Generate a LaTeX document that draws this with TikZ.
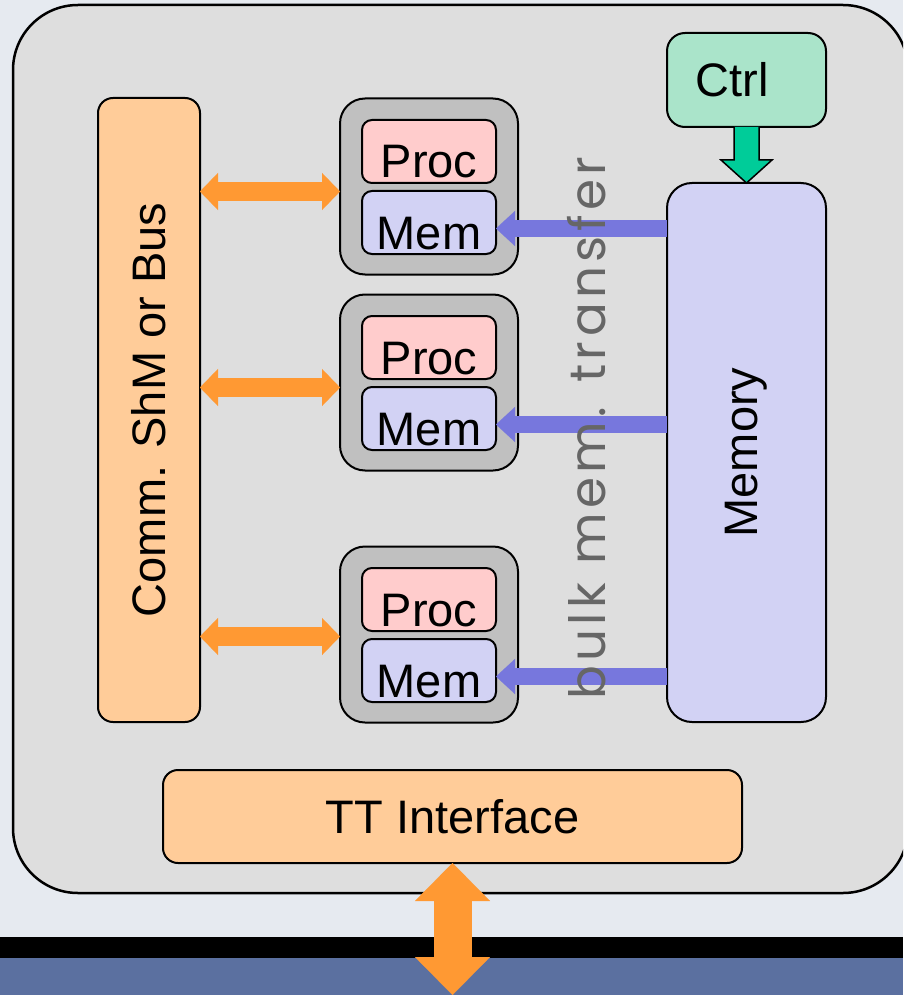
\documentclass[tikz,border=0pt]{standalone}
\usepackage{fontspec}
\setmainfont{Liberation Sans}
\newfontfamily\gothic[LetterSpace=9]{Poppins}
\usetikzlibrary{positioning,calc,arrows.meta}

\definecolor{backdrop}{HTML}{E6EAF0}
\definecolor{basebar}{HTML}{5B70A0}
\definecolor{boardgray}{HTML}{DEDEDE}
\definecolor{tilegray}{HTML}{C0C0C0}
\definecolor{busorange}{HTML}{FFCC99}
\definecolor{procred}{HTML}{FFCCCC}
\definecolor{memblue}{HTML}{D2D2F4}
\definecolor{ctrlgreen}{HTML}{AAE4CA}
\definecolor{arroworange}{HTML}{FF9933}
\definecolor{feedblue}{HTML}{7777DD}
\definecolor{flowgreen}{HTML}{00CC99}
\definecolor{bulkgray}{HTML}{666666}

\tikzset{
  block/.style={draw, line width=2pt, rounded corners=15pt, inner sep=0pt, outer sep=0pt, font=\fontsize{47}{56}\selectfont},
  tile/.style={draw, line width=2pt, fill=tilegray, rounded corners=25pt, minimum width=178pt, minimum height=176pt, outer sep=0pt},
  unit/.style={block, rounded corners=10pt, minimum width=134pt, minimum height=63pt, text height=53pt, text depth=0pt},
  link/.style={draw=arroworange, line width=19pt, >={Triangle[length=18pt, width=37pt, line width=0.1pt]}, <->},
  feed/.style={draw=feedblue, line width=17pt, -{Triangle[length=19pt, width=35pt, line width=0.1pt]}},
  uplink/.style={draw=arroworange, line width=38pt, >={Triangle[length=38pt, width=75pt, line width=0.1pt]}, <->},
  ctrlflow/.style={draw, line width=1.5pt, fill=flowgreen, line join=miter}
}

\begin{document}
\begin{tikzpicture}[x=1pt, y=-1pt]
    \clip (0,0) rectangle (903,995);
    \fill[backdrop] (0,0) rectangle (903,995);
    \fill[black] (0,937) rectangle (903,958);
    \fill[basebar] (0,958) rectangle (903,995);

    \node (board) [draw, line width=2.5pt, fill=boardgray, rounded corners=65pt, minimum width=895pt, minimum height=888pt] at (460.5,449) {};

    \node (comm) [block, fill=busorange, minimum width=102pt, minimum height=624pt] at (149,410) {\rotatebox{90}{Comm. ShM or Bus}};

    % processing tiles
    \node (grp1) [tile] at (429,186.5) {};
    \node (proc1) [unit, fill=procred] at ($(grp1.center)+(0,-35)$) {Proc};
    \node (mem1) [unit, fill=memblue, below=8pt of proc1] {Mem};

    \node (grp2) [tile, below=20pt of grp1] {};
    \node (proc2) [unit, fill=procred] at ($(grp2.center)+(0,-35)$) {Proc};
    \node (mem2) [unit, fill=memblue, below=8pt of proc2] {Mem};

    \node (grp3) [tile, below=76pt of grp2] {};
    \node (proc3) [unit, fill=procred] at ($(grp3.center)+(0,-35)$) {Proc};
    \node (mem3) [unit, fill=memblue, below=8pt of proc3] {Mem};

    \node (memory) [block, fill=memblue, rounded corners=25pt, minimum width=159pt, minimum height=539pt] at (746.5,452.5) {\rotatebox{90}{Memory}};
    \node (ctrl) [block, fill=ctrlgreen, rounded corners=18pt, minimum width=159pt, minimum height=94pt, above=56pt of memory] {\hspace*{-28pt}Ctrl};

    \draw[ctrlflow] ($(ctrl.south)+(-12.5,0)$) -- ($(memory.north)+(-12.5,-23)$) -- ($(memory.north)+(-25.5,-23)$) -- (memory.north) -- ($(memory.north)+(25.5,-23)$) -- ($(memory.north)+(12.5,-23)$) -- ($(ctrl.south)+(12.5,0)$);

    \draw[link] ($(comm.east |- grp1.west)+(0,5)$) -- ($(grp1.west)+(0,5)$);
    \draw[link] ($(comm.east |- grp2.west)+(0,5)$) -- ($(grp2.west)+(0,5)$);
    \draw[link] ($(comm.east |- grp3.west)+(0,2)$) -- ($(grp3.west)+(0,2)$);

    \draw[feed] ($(memory.west |- mem1.east)+(0,6)$) -- ($(mem1.east)+(0,6)$);
    \draw[feed] ($(memory.west |- mem2.east)+(0,6)$) -- ($(mem2.east)+(0,6)$);
    \draw[feed] ($(memory.west |- mem3.east)+(0,6)$) -- ($(mem3.east)+(0,6)$);

    \node (bulk) [anchor=base west, rotate=90, inner sep=0pt, text=bulkgray, font=\gothic\fontsize{50}{60}\selectfont] at (605,700) {bulk mem. transfer};

    \node (tt) [block, fill=busorange, minimum width=579pt, minimum height=93pt] at (452.5,816.5) {TT Interface};

    \coordinate (busend) at (tt.south |- 0,995);
    \draw[uplink] (tt.south) -- (busend);
\end{tikzpicture}
\end{document}
